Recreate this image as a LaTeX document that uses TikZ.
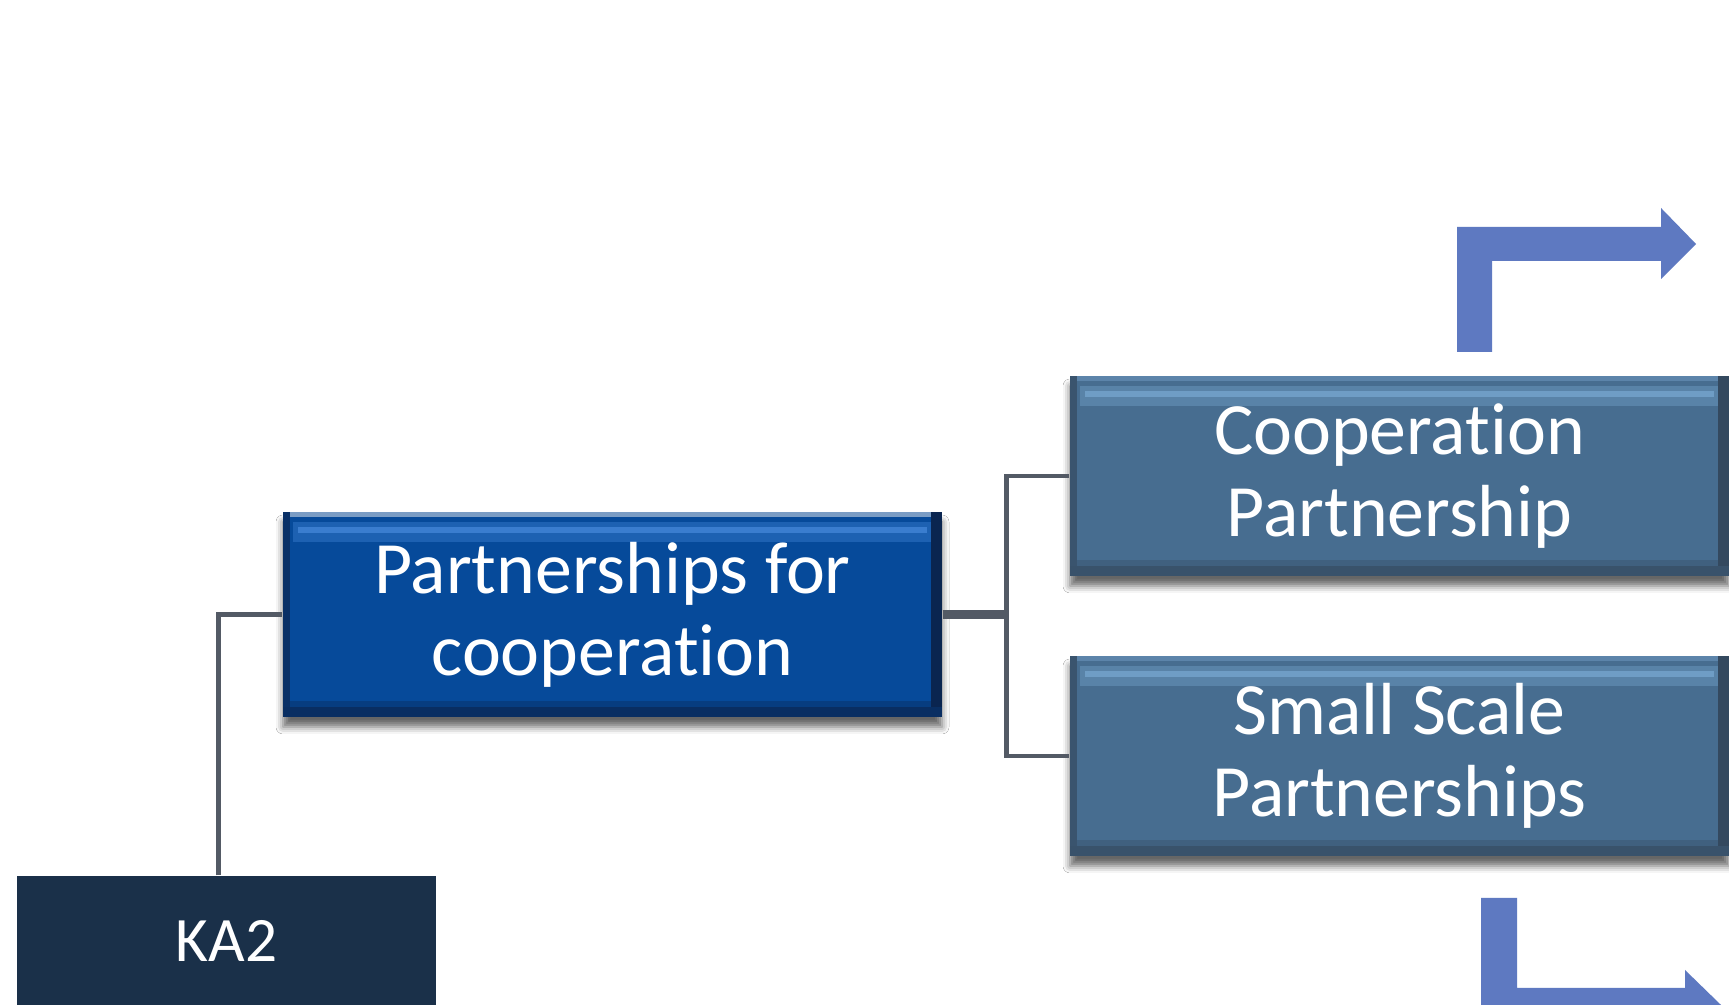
\documentclass[tikz,border=0pt]{standalone}
\usepackage{fontspec}
\setmainfont{Carlito}[Ligatures=NoCommon]
\usetikzlibrary{shadows.blur}

\definecolor{keynavy}{HTML}{1A3049}
\definecolor{pfcblue}{HTML}{064A9A}
\definecolor{pfclight}{HTML}{3A7DCF}
\definecolor{pfcrim}{HTML}{7A9CC4}
\definecolor{pfcdeep}{HTML}{0A2550}
\definecolor{partblue}{HTML}{476D90}
\definecolor{partlight}{HTML}{6F9DC5}
\definecolor{partrim}{HTML}{5C84AA}
\definecolor{partdeep}{HTML}{34495F}
\definecolor{linkgrey}{HTML}{535A65}
\definecolor{arrowblue}{HTML}{5E79C1}

\tikzset{
  boxtext/.style={text=white, align=center, inner sep=0pt,
    font=\fontsize{21}{23.3}\selectfont},
  bevel/.style n args={4}{path picture={
      \coordinate (nw) at (path picture bounding box.north west);
      \coordinate (ne) at (path picture bounding box.north east);
      \coordinate (sw) at (path picture bounding box.south west);
      \coordinate (se) at (path picture bounding box.south east);
      % top rim and highlight band
      \fill[#3] (nw) rectangle ([yshift=-0.05cm]ne);
      \fill[#2!45!#1] ([xshift=0.1cm,yshift=-0.1cm]nw) rectangle ([xshift=-0.1cm,yshift=-0.3cm]ne);
      \fill[#2] ([xshift=0.15cm,yshift=-0.15cm]nw) rectangle ([xshift=-0.15cm,yshift=-0.21cm]ne);
      % dark sides and bottom
      \fill[#4!70!#1] (nw) rectangle ([xshift=0.07cm]sw);
      \fill[#4] ([xshift=-0.11cm]ne) rectangle (se);
      \fill[#4!75!#1] (sw) rectangle ([yshift=0.1cm]se);
      \fill[#4!35!#1] ([xshift=0.07cm,yshift=0.1cm]sw) rectangle ([xshift=-0.11cm,yshift=0.16cm]se);
    }},
  softshadow/.style={blur shadow={shadow xshift=0cm, shadow yshift=-0.1cm,
    shadow blur radius=0.07cm, shadow opacity=60}},
  pfcbox/.style={boxtext, fill=pfcblue, minimum width=6.59cm, minimum height=2.05cm,
    bevel={pfcblue}{pfclight}{pfcrim}{pfcdeep}, softshadow},
  partbox/.style={boxtext, fill=partblue, minimum width=6.59cm, minimum height=2.0cm,
    bevel={partblue}{partlight}{partrim}{partdeep}, softshadow},
  keybox/.style={text=white, fill=keynavy, minimum width=4.19cm, minimum height=1.29cm,
    inner sep=0pt, font=\fontsize{18}{21}\selectfont},
  link/.style={draw=linkgrey, line width=1.4pt},
  stublink/.style={draw=linkgrey, line width=2.8pt},
  turnarrow/.style={fill=arrowblue}
}

\begin{document}
\begin{tikzpicture}
    \clip (0,0) rectangle (17.29,10.05);
    \fill[white] (0,0) rectangle (17.29,10.05);

    % Boxes
    \node[keybox] (ka2) at (2.265,0.645) {KA2};
    \node[pfcbox] (pfc) at (6.125,3.905) {Partnerships for\\cooperation};
    \node[partbox] (coop) at (13.995,5.29) {Cooperation\\Partnership};
    \node[partbox] (small) at (13.995,2.49) {Small Scale\\Partnerships};

    % Connectors
    \draw[link] ([xshift=-0.08cm]ka2.north) |- (pfc.west);
    \coordinate (split) at (10.065,3.905);
    \draw[stublink] (pfc.east) -- (split);
    \draw[link] (coop.west) -| (split) |- (small.west);

    % Bent arrows on the right
    \fill[turnarrow] (14.57,6.53) -- (14.57,7.78) -- (16.61,7.78) -- (16.61,7.97)
        -- (16.96,7.61) -- (16.61,7.26) -- (16.61,7.44) -- (14.92,7.44) -- (14.92,6.53) -- cycle;
    \fill[turnarrow] (14.81,1.07) -- (14.81,-0.17) -- (16.85,-0.17) -- (16.85,-0.36)
        -- (17.21,0.0) -- (16.85,0.35) -- (16.85,0.17) -- (15.17,0.17) -- (15.17,1.07) -- cycle;
\end{tikzpicture}
\end{document}
